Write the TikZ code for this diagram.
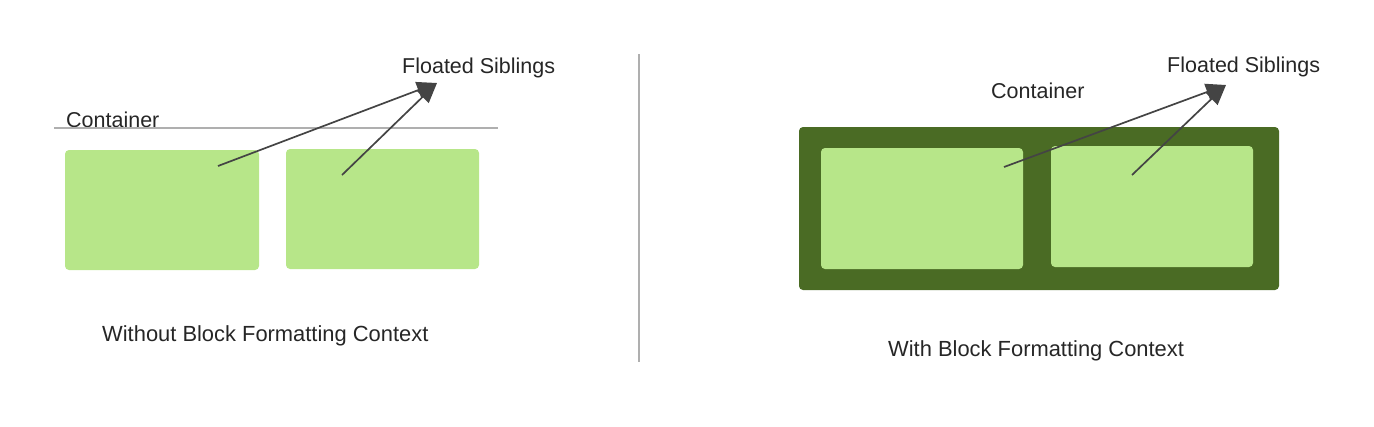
\documentclass[tikz,border=0pt]{standalone}
\usepackage{fontspec}
\setmainfont{Liberation Sans}
\usetikzlibrary{arrows.meta}
\definecolor{lightgreen}{RGB}{183,230,137}
\definecolor{darkgreen}{RGB}{74,107,36}
\definecolor{arrowgray}{RGB}{68,68,68}
\definecolor{linegray}{RGB}{175,175,175}
\begin{document}
\begin{tikzpicture}[x=1pt,y=-1pt,
  lbl/.style={font=\fontsize{21.5}{24}\selectfont, text=black!85, inner sep=0pt, anchor=base west},
  captionlbl/.style={font=\fontsize{21.9}{24}\selectfont, text=black!85, inner sep=0pt, anchor=base west},
  floatbox/.style={fill=lightgreen, rounded corners=4pt},
  pointer/.style={draw=arrowgray, line width=1.7pt, -{Triangle[length=20pt,width=17pt]}}]
\useasboundingbox (0,0) rectangle (1374,426);
% left panel
\node[lbl] (lfloat) at (402,73) {Floated Siblings};
\node[lbl] (lcont) at (66,127) {Container};
\coordinate (lineL) at (54,128);
\coordinate (lineR) at (498,128);
\draw[linegray, line width=1.6pt] (lineL) -- (lineR);
\fill[floatbox] (65,150) rectangle (259,270);
\fill[floatbox] (286,149) rectangle (479,269);
\coordinate (ltip) at (437,83);
\coordinate (la) at (218,166);
\coordinate (lb) at (342,175);
\draw[pointer] (la) -- (ltip);
\draw[pointer] (lb) -- (ltip);
\node[captionlbl] (lcap) at (102,341) {Without Block Formatting Context};
% separator
\coordinate (sepT) at (639,54);
\coordinate (sepB) at (639,362);
\draw[linegray, line width=1.5pt] (sepT) -- (sepB);
% right panel
\node[lbl] (rfloat) at (1167,72) {Floated Siblings};
\node[lbl] (rcont) at (991,98) {Container};
\fill[darkgreen, rounded corners=4pt] (799,127) rectangle (1279,290);
\fill[floatbox] (821,148) rectangle (1023,269);
\fill[floatbox] (1051,146) rectangle (1253,267);
\coordinate (rtip) at (1226,85);
\coordinate (ra) at (1004,167);
\coordinate (rb) at (1132,175);
\draw[pointer] (ra) -- (rtip);
\draw[pointer] (rb) -- (rtip);
\node[captionlbl] (rcap) at (888,356) {With Block Formatting Context};
\end{tikzpicture}
\end{document}
